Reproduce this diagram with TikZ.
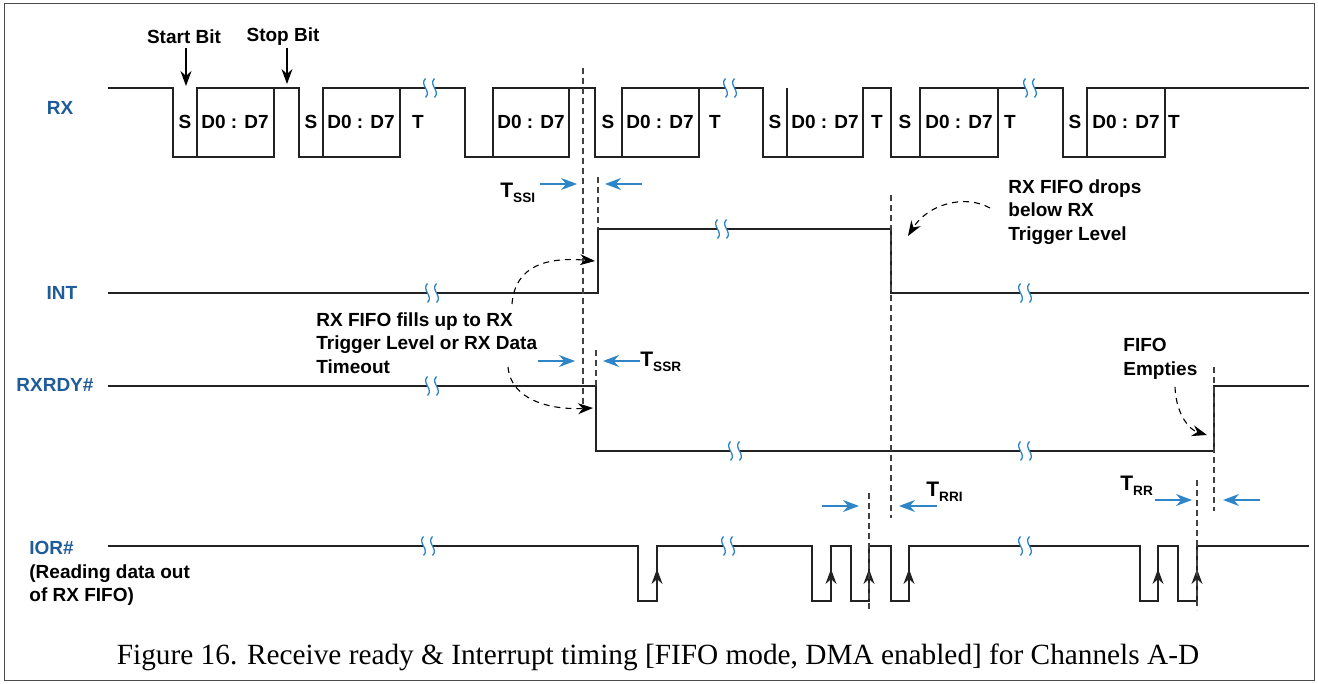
\documentclass[tikz,border=0pt]{standalone}
\usepackage{fontspec}
\setmainfont{Liberation Serif}
\newfontfamily\arialf{Liberation Sans}
\usetikzlibrary{arrows.meta}
\definecolor{sigblue}{HTML}{1F5C99}
\definecolor{arrblue}{HTML}{2E86C8}
\definecolor{wavec}{HTML}{222222}
\newcommand\brkmark[2]{%
  \fill[white] (#1-4.5,#2-3) rectangle (#1+4.5,#2+3);
  \draw[arrblue, line width=0.65pt] (#1-4.5,#2-9.5) .. controls (#1-11,#2-3) and (#1+2,#2+3) .. (#1-4.5,#2+9.5);
  \draw[arrblue, line width=0.65pt] (#1+4.5,#2-9.5) .. controls (#1-2,#2-3) and (#1+11,#2+3) .. (#1+4.5,#2+9.5);
}
\tikzset{
  wave/.style={draw=wavec, line width=0.65pt, line join=miter},
  guide/.style={draw=black!75, line width=0.55pt, dash pattern=on 3pt off 2pt},
  tarrow/.style={draw=arrblue, line width=0.7pt, -{Stealth[length=8pt,width=6pt]}},
  note/.style={font=\arialf\bfseries\fontsize{9.5}{11.75}\selectfont, inner sep=0pt, align=left},
  sig/.style={font=\arialf\bfseries\fontsize{9.5}{11.75}\selectfont, text=sigblue, inner sep=0pt},
  bit/.style={font=\arialf\bfseries\fontsize{9.5}{11.75}\selectfont, inner sep=0pt},
  tlab/.style={font=\arialf\bfseries\fontsize{10.5}{12}\selectfont, inner sep=0pt, anchor=base west},
  curv/.style={draw=black, line width=0.55pt, dash pattern=on 3pt off 2.5pt, -{Stealth[length=7.5pt,width=5.5pt]}},
  ptr/.style={draw=black, line width=0.6pt, -{Stealth[length=7.5pt,width=5.5pt]}},
  edgearr/.style={draw=wavec, line width=0.65pt, -{Stealth[length=7.5pt,width=5.5pt]}},
}
\newcommand\subt[1]{\raisebox{-2.5pt}{\fontsize{6.8}{6.8}\selectfont #1}}
\begin{document}
\begin{tikzpicture}[x=0.5pt,y=-0.5pt]
\useasboundingbox (0,0) rectangle (1318,684);
\draw[black!70, line width=0.5pt] (4,4) rectangle (1314,680);

% ---------- signal labels ----------
\node[sig] (rxl) at (60,108) {RX};
\node[sig] (intl) at (62,293) {INT};
\node[sig, anchor=west] (rxrdyl) at (16,385) {RXRDY\#};
\node[sig, anchor=west] (iorl) at (29,548) {IOR\#};
\node[note, anchor=west] (iorn1) at (29,574) {(Reading data out};
\node[note, anchor=west] (iorn2) at (29,597) {of RX FIFO)};

% ---------- RX ----------
\draw[wave] (108,88) -- (173,88) -- (173,157) -- (274,157) -- (274,88) -- (299,88) -- (299,157)
  -- (400,157) -- (400,88) -- (465,88) -- (465,157) -- (569,157) -- (569,88) -- (595,88)
  -- (595,157) -- (699,157) -- (699,88) -- (763,88) -- (763,157) -- (863,157) -- (863,88)
  -- (891,88) -- (891,157) -- (998,157) -- (998,88) -- (1063,88) -- (1063,157) -- (1165,157)
  -- (1165,88) -- (1309,88);
\draw[wave] (197,157) -- (197,88) -- (274,88);
\draw[wave] (323,157) -- (323,88) -- (400,88);
\draw[wave] (493,157) -- (493,88) -- (569,88);
\draw[wave] (622,157) -- (622,88) -- (699,88);
\draw[wave] (787,157) -- (787,88);
\draw[wave] (920,157) -- (920,88) -- (998,88);
\draw[wave] (1087,157) -- (1087,88) -- (1165,88);
\brkmark{430}{88}
\brkmark{730}{88}
\brkmark{1030}{88}

\node[bit] (s1) at (185,122) {S};
\node[bit] (d1) at (235,122) {D0 : D7};
\node[bit] (s2) at (311,122) {S};
\node[bit] (d2) at (361,122) {D0 : D7};
\node[bit] (t2) at (418,122) {T};
\node[bit] (d3) at (531,122) {D0 : D7};
\node[bit] (s4) at (608,122) {S};
\node[bit] (d4) at (660,122) {D0 : D7};
\node[bit] (t4) at (715,122) {T};
\node[bit] (s5) at (775,122) {S};
\node[bit] (d5) at (825,122) {D0 : D7};
\node[bit] (t5) at (877,122) {T};
\node[bit] (s6) at (905,122) {S};
\node[bit] (d6) at (959,122) {D0 : D7};
\node[bit] (t6) at (1010,122) {T};
\node[bit] (s7) at (1075,122) {S};
\node[bit] (d7) at (1126,122) {D0 : D7};
\node[bit] (t7) at (1174,122) {T};

\node[bit] (startl) at (184,37) {Start Bit};
\node[bit] (stopl) at (283,37) {Stop Bit};
\coordinate (startp) at (186,86);
\coordinate (stopp) at (287,84);
\draw[ptr] (186,48) -- (startp);
\draw[ptr] (287,48) -- (stopp);

% ---------- INT ----------
\draw[wave] (108,293) -- (598,293) -- (598,229) -- (891,229) -- (891,293) -- (1309,293);
\brkmark{432}{293}
\brkmark{722}{229}
\brkmark{1025}{293}

% ---------- RXRDY# ----------
\draw[wave] (108,386) -- (596,386) -- (596,451) -- (1214,451) -- (1214,386) -- (1309,386);
\brkmark{432}{386}
\brkmark{735}{451}
\brkmark{1025}{451}

% ---------- IOR# ----------
\draw[wave] (108,546) -- (638,546) -- (638,601) -- (657,601) -- (657,546) -- (812,546)
  -- (812,601) -- (831,601) -- (831,546) -- (851,546) -- (851,601) -- (869,601) -- (869,546)
  -- (891,546) -- (891,601) -- (909,601) -- (909,546) -- (1140,546) -- (1140,601) -- (1158,601)
  -- (1158,546) -- (1178,546) -- (1178,601) -- (1197,601) -- (1197,546) -- (1309,546);
\brkmark{428}{546}
\brkmark{728}{546}
\brkmark{1025}{546}
\foreach \xx in {657,831,869,909,1158,1197}
  \draw[edgearr] (\xx,601) -- (\xx,569);

% ---------- guide lines ----------
\draw[guide] (583,68) -- (583,405);
\draw[guide] (598,177) -- (598,229);
\draw[guide] (596,350) -- (596,386);
\draw[guide] (891,195) -- (891,518);
\draw[guide] (869,493) -- (869,610);
\draw[guide] (1214,367) -- (1214,511);
\draw[guide] (1197,480) -- (1197,610);

% ---------- timing arrows ----------
\draw[tarrow] (540,184) -- (577,184);
\draw[tarrow] (642,184) -- (605,184);
\node[tlab] (tssi) at (500,198) {T\subt{SSI}};

\draw[tarrow] (538,361) -- (575,361);
\draw[tarrow] (640,361) -- (603,361);
\node[tlab] (tssr) at (640,366) {T\subt{SSR}};

\draw[tarrow] (822,506) -- (859,506);
\draw[tarrow] (937,506) -- (899,506);
\node[tlab] (trri) at (926,496) {T\subt{RRI}};

\draw[tarrow] (1155,500) -- (1192,500);
\draw[tarrow] (1260,500) -- (1223,500);
\node[tlab] (trr) at (1120,490) {T\subt{RR}};

% ---------- notes ----------
\node[note, anchor=north west] (fills) at (316,312) {RX FIFO fills up to RX\\Trigger Level or RX Data\\Timeout};
\node[note, anchor=north west] (drops) at (1008,179) {RX FIFO drops\\below RX\\Trigger Level};
\node[note, anchor=north west] (empt) at (1123,338) {FIFO\\Empties};

\coordinate (c1s) at (512,304);
\coordinate (c1e) at (595,261);
\draw[curv] (c1s) .. controls (515,265) and (548,257) .. (c1e);
\coordinate (c2s) at (508,367);
\coordinate (c2e) at (593,408);
\draw[curv] (c2s) .. controls (511,400) and (550,410) .. (c2e);
\coordinate (c3s) at (990,208);
\coordinate (c3e) at (908,236);
\draw[curv] (c3s) .. controls (965,194) and (928,204) .. (c3e);
\coordinate (c4s) at (1175,387);
\coordinate (c4e) at (1207,435);
\draw[curv] (c4s) .. controls (1176,415) and (1190,430) .. (c4e);

% ---------- caption ----------
\node[inner sep=0pt, font=\fontsize{14.65}{16}\selectfont] (cap) at (658,657)
  {Figure 16. Receive ready \& Interrupt timing [FIFO mode, DMA enabled] for Channels A-D};
\end{tikzpicture}
\end{document}
